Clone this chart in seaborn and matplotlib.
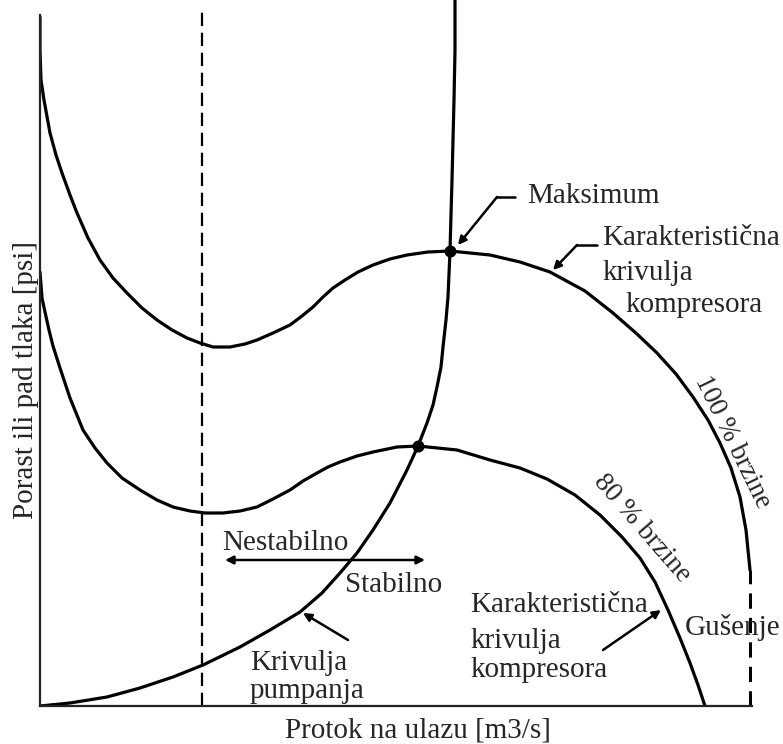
import numpy as np
import pandas as pd
import matplotlib
matplotlib.use("Agg")
import matplotlib.pyplot as plt
import seaborn as sns

# curves (flow, pressure) in chart units
speed100_flow = [0, 0, 1, 4, 10, 16, 22, 30, 37, 48, 60, 73, 87, 102, 117, 132, 147, 160, 173,
                 190, 205, 217, 233, 250, 262, 273, 283, 293, 305, 318, 333, 350, 367, 388, 410,
                 450, 480, 510, 545, 573, 597, 617, 636, 653, 668, 680, 691, 700, 706, 710]
speed100_pres = [689, 656, 626, 606, 573, 551, 533, 511, 493, 468, 446, 428, 413, 398, 386,
                 376, 368, 363, 359, 359, 362, 366, 373, 381, 390, 399, 409, 418, 426, 434,
                 441, 447, 451, 454, 455, 451, 444, 434, 415, 393, 372, 353, 332, 309, 286,
                 263, 238, 209, 176, 136]

speed80_flow = [0, 2, 5, 9, 13, 20, 30, 43, 55, 67, 82, 100, 117, 133, 150, 165, 183, 200, 217,
                233, 250, 263, 277, 288, 300, 317, 333, 357, 378, 417, 450, 480, 507, 535, 560,
                582, 600, 615, 628, 640, 650, 658, 665]
speed80_pres = [434, 408, 394, 376, 360, 338, 308, 276, 258, 243, 228, 216, 206, 199, 195, 193,
                193, 195, 199, 207, 216, 225, 233, 239, 244, 250, 254, 259, 260, 256, 246, 238,
                227, 211, 191, 169, 148, 124, 96, 68, 43, 21, 0]

surge_flow = [0, 30, 67, 100, 133, 163, 200, 230, 260, 282, 300, 317, 333, 350, 367, 378, 387,
              393, 397, 401, 403, 406, 408, 410, 411, 412, 413, 414, 415, 415]
surge_pres = [0, 3, 9, 18, 29, 41, 59, 76, 94, 113, 133, 153, 176, 203, 236, 260, 283, 301,
              319, 339, 359, 386, 409, 455, 491, 526, 566, 606, 656, 706]

max_flow = [410, 378]
max_pres = [455, 260]

surge_limit_flow = 162
choke_flow = 710
choke_top = 136

sns.set_theme(style="white")
plt.rcParams['font.family'] = ['Liberation Serif', 'DejaVu Serif']

fig = plt.figure(figsize=(7.83, 7.44), dpi=100)
ax = fig.add_axes([40 / 783, 38 / 744, 712 / 783, 706 / 744])

lw = 2.3
for fx, py in [(speed100_flow, speed100_pres), (speed80_flow, speed80_pres),
               (surge_flow, surge_pres)]:
    sns.lineplot(x=fx, y=py, sort=False, estimator=None, color='black', lw=lw, ax=ax,
                 solid_joinstyle='round', solid_capstyle='round')

sns.scatterplot(x=max_flow, y=max_pres, color='black', s=75, ax=ax, zorder=5, linewidth=0)

ax.plot([surge_limit_flow, surge_limit_flow], [0, 694], color='black', lw=1.6,
        linestyle=(0, (6, 3)))
ax.plot([choke_flow, choke_flow], [0, choke_top], color='black', lw=2.2,
        linestyle=(0, (5, 3)))

ax.set_xlim(0, 712)
ax.set_ylim(0, 706)
ax.set_xticks([])
ax.set_yticks([])
for s in ['top', 'right']:
    ax.spines[s].set_visible(False)
for s in ['left', 'bottom']:
    ax.spines[s].set_color('#222222')
    ax.spines[s].set_linewidth(1.6)
ax.spines['left'].set_bounds(0, 691)

fs = 21
arrow = dict(arrowstyle='-|>', color='black', lw=1.8, mutation_scale=12,
             shrinkA=0, shrinkB=0)

ax.text(378, -31, 'Protok na ulazu [m3/s]', ha='center', va='baseline', fontsize=fs,
        clip_on=False)
ax.text(-14, 326, 'Porast ili pad tlaka [psi]', ha='center', va='center', rotation=90,
        fontsize=fs, clip_on=False)

# upper annotations
ax.text(487, 503, 'Maksimum', ha='left', va='baseline', fontsize=fs)
ax.plot([475, 457], [509, 509], color='black', lw=1.8)
ax.annotate('', xy=(418, 461), xytext=(457, 509), arrowprops=arrow)

ax.text(562, 461, 'Karakteristična', ha='left', va='baseline', fontsize=fs, clip_on=False)
ax.text(562, 426, 'krivulja', ha='left', va='baseline', fontsize=fs)
ax.text(585, 394, 'kompresora', ha='left', va='baseline', fontsize=fs)
ax.plot([557, 537], [461, 461], color='black', lw=1.8)
ax.annotate('', xy=(513, 436), xytext=(537, 461), arrowprops=arrow)

ax.text(687, 261, '100 % brzine', ha='center', va='baseline', rotation=-64,
        rotation_mode='anchor', fontsize=19.5)
ax.text(602, 178, '80 % brzine', ha='center', va='center', rotation=-49, fontsize=20)

# stability region
ax.text(182, 156, 'Nestabilno', ha='left', va='baseline', fontsize=fs)
ax.text(305, 114, 'Stabilno', ha='left', va='baseline', fontsize=fs)
ax.annotate('', xy=(185, 146), xytext=(385, 146),
            arrowprops=dict(arrowstyle='<|-|>', color='black', lw=1.8, mutation_scale=12,
                            shrinkA=0, shrinkB=0))

ax.text(210, 36, 'Krivulja', ha='left', va='baseline', fontsize=fs)
ax.text(210, 8, 'pumpanja', ha='left', va='baseline', fontsize=fs)
ax.annotate('', xy=(263, 93), xytext=(308, 66), arrowprops=arrow)

ax.text(430, 94, 'Karakteristična', ha='left', va='baseline', fontsize=fs)
ax.text(430, 58, 'krivulja', ha='left', va='baseline', fontsize=fs)
ax.text(430, 29, 'kompresora', ha='left', va='baseline', fontsize=fs)
ax.annotate('', xy=(621, 96), xytext=(563, 56), arrowprops=arrow)

ax.text(645, 71, 'Gušenje', ha='left', va='baseline', fontsize=fs, clip_on=False)

fig.savefig('out.png', dpi=100, facecolor='white')
